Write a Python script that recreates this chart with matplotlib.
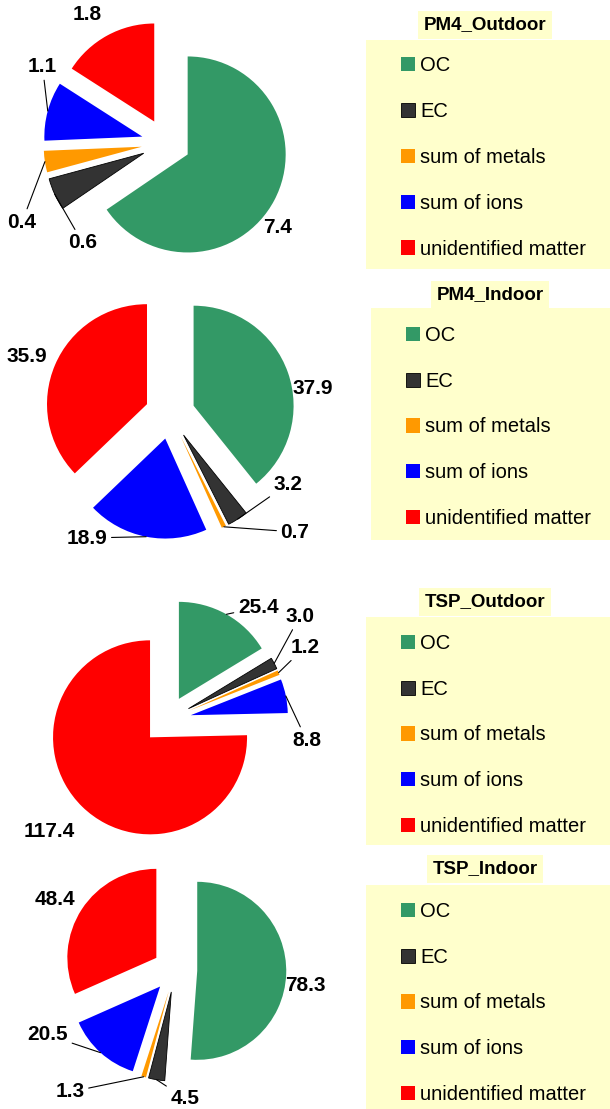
import numpy as np
import matplotlib.pyplot as plt
from matplotlib.patches import Rectangle

plt.rcParams['font.family'] = ['Liberation Sans', 'DejaVu Sans']

# ---------- data ----------
components = ["OC", "EC", "sum of metals", "sum of ions", "unidentified matter"]
colors = ["#339966", "#333333", "#FF9900", "#0000FF", "#FF0000"]

titles = ["PM4_Outdoor", "PM4_Indoor", "TSP_Outdoor", "TSP_Indoor"]
pm4_outdoor = [7.4, 0.6, 0.4, 1.1, 1.8]
pm4_indoor = [37.9, 3.2, 0.7, 18.9, 35.9]
tsp_outdoor = [25.4, 3.0, 1.2, 8.8, 117.4]
tsp_indoor = [78.3, 4.5, 1.3, 20.5, 48.4]
series = [pm4_outdoor, pm4_indoor, tsp_outdoor, tsp_indoor]

# ---------- layout (pixels of the 610x1109 canvas) ----------
W, H = 610, 1109
pie_center = [(166, 143), (170, 414), (167, 720), (175, 970)]
pie_radius = [98, 100, 97, 89]
# label positions in pie-radius units, relative to the pie centre
label_pos = [
    [(1.14, -0.86), (-0.85, -1.02), (-1.47, -0.81), (-1.26, 0.78), (-0.80, 1.31)],
    [(1.43, 0.25), (1.18, -0.70), (1.25, -1.18), (-0.83, -1.24), (-1.43, 0.57)],
    [(0.94, 1.16), (1.37, 1.07), (1.42, 0.75), (1.44, -0.21), (-1.21, -1.15)],
    [(1.46, -0.17), (0.11, -1.44), (-1.18, -1.37), (-1.43, -0.73), (-1.35, 0.79)],
]
leader = [
    [False, True, True, True, False],
    [False, True, True, True, False],
    [True, True, True, True, False],
    [False, True, True, True, False],
]
legend_body = [(366, 40, 610, 269), (371, 308, 610, 540),
               (366, 617, 610, 845), (366, 885, 610, 1109)]
legend_shift = [3, 3, 4, 6]
title_center = [(485, 25), (490, 295), (485, 602), (485, 869)]

fig = plt.figure(figsize=(W / 100, H / 100), dpi=100)


def fx(x):
    return x / W


def fy(y):
    return 1 - y / H


for i, vals in enumerate(series):
    cx, cy = pie_center[i]
    R = pie_radius[i]
    aw, ah = 340, 300
    ax = fig.add_axes([0, fy(cy + ah / 2), aw / W, ah / H])
    wedges, _ = ax.pie(vals, colors=colors, startangle=90, counterclock=False,
                       explode=[0.25] * len(vals), radius=1,
                       wedgeprops=dict(linewidth=0))
    wedges[1].set_edgecolor("black")
    wedges[1].set_linewidth(0.6)
    ax.set_aspect("auto")
    ax.set_xlim(-cx / R, (aw - cx) / R)
    ax.set_ylim(-(ah / 2) / R, (ah / 2) / R)
    ax.axis("off")

    for j, (w, v) in enumerate(zip(wedges, vals)):
        th = np.deg2rad((w.theta1 + w.theta2) / 2)
        xy = (w.center[0] + w.r * np.cos(th), w.center[1] + w.r * np.sin(th))
        props = dict(arrowstyle="-", color="black", lw=0.8,
                     shrinkA=1, shrinkB=0) if leader[i][j] else None
        ax.annotate(f"{v:.1f}", xy=xy, xytext=label_pos[i][j],
                    ha="center", va="center", fontsize=15, fontweight="bold",
                    arrowprops=props, annotation_clip=False)

    # legend body
    x0, y0, x1, y1 = legend_body[i]
    fig.add_artist(Rectangle((fx(x0), fy(y1)), (x1 - x0) / W, (y1 - y0) / H,
                             transform=fig.transFigure, facecolor="#FFFFCC",
                             edgecolor="none", zorder=0))
    fig.legend(wedges, components, loc="center left",
               bbox_to_anchor=(fx(x0 + 35), fy((y0 + y1) / 2 + legend_shift[i])),
               frameon=False, fontsize=14.5, labelspacing=1.33,
               handlelength=0.7, handleheight=0.7, handletextpad=0.25,
               borderpad=0, borderaxespad=0)

    tx, ty = title_center[i]
    fig.text(fx(tx), fy(ty), titles[i], ha="center", va="center",
             fontsize=13.5, fontweight="bold",
             bbox=dict(boxstyle="square,pad=0.3", facecolor="#FFFFCC",
                       edgecolor="none"))

fig.savefig("out.png", dpi=100)
